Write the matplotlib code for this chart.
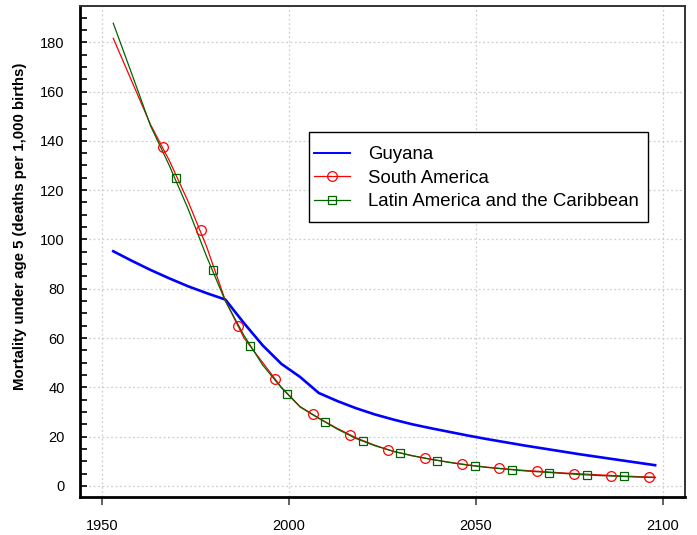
import matplotlib
matplotlib.use("Agg")
import matplotlib.pyplot as plt
from matplotlib.lines import Line2D
from matplotlib.patches import Rectangle
from matplotlib.ticker import MultipleLocator

plt.rcParams['font.family'] = ['Liberation Sans', 'DejaVu Sans']

# 5-year period midpoints
years = [1953, 1958, 1963, 1968, 1973, 1978, 1983, 1988, 1993, 1998,
         2003, 2008, 2013, 2018, 2023, 2028, 2033, 2038, 2043, 2048,
         2053, 2058, 2063, 2068, 2073, 2078, 2083, 2088, 2093, 2098]

guyana = [95.2, 91.3, 87.6, 84.2, 81.0, 78.2, 75.6, 66.0, 57.0, 49.5,
          44.2, 37.7, 34.4, 31.5, 29.0, 26.9, 25.0, 23.4, 21.9, 20.4,
          19.0, 17.7, 16.4, 15.2, 14.0, 12.8, 11.7, 10.6, 9.5, 8.4]

south_america = [181.6, 164.0, 146.5, 132.0, 115.5, 97.0, 75.2, 60.0, 50.0, 40.0,
                 32.2, 27.5, 23.3, 19.5, 16.5, 14.0, 12.3, 10.8, 9.6, 8.5,
                 7.6, 6.9, 6.3, 5.8, 5.3, 4.9, 4.5, 4.1, 3.8, 3.5]

latin_america = [187.7, 167.0, 146.0, 130.0, 112.5, 93.0, 75.0, 61.0, 49.0, 39.8,
                 32.0, 27.4, 23.0, 19.2, 16.3, 14.0, 12.2, 10.8, 9.5, 8.4,
                 7.5, 6.8, 6.1, 5.6, 5.1, 4.6, 4.2, 3.9, 3.6, 3.4]

# marker positions as drawn on the reference
sa_marker_years = [1966.4, 1976.4, 1986.3, 1996.3, 2006.4, 2016.4, 2026.4,
                   2036.4, 2046.3, 2056.3, 2066.3, 2076.3, 2086.3, 2096.3]
sa_marker_values = [137.3, 104.0, 65.0, 43.2, 29.1, 20.6, 14.6,
                    11.3, 8.8, 7.2, 6.0, 5.0, 4.2, 3.7]
lac_marker_years = [1969.7, 1979.6, 1989.6, 1999.6, 2009.6, 2019.7, 2029.7,
                    2039.7, 2049.8, 2059.7, 2069.7, 2079.7, 2089.7]
lac_marker_values = [124.8, 87.4, 56.6, 37.4, 26.1, 18.4, 13.5,
                     10.3, 8.1, 6.5, 5.4, 4.3, 3.9]

fig = plt.figure(figsize=(6.97, 5.35), dpi=100)
ax = fig.add_axes([80/697, 38/535, 605/697, 491/535])

ax.plot(years, guyana, color='blue', lw=1.9, zorder=3)
ax.plot(years, south_america, color='red', lw=0.9, zorder=4)
ax.plot(years, latin_america, color='darkgreen', lw=0.9, zorder=5)
ax.plot(sa_marker_years, sa_marker_values, ls='none', marker='o', ms=7,
        mfc='none', mec='red', mew=0.9, zorder=6)
ax.plot(lac_marker_years, lac_marker_values, ls='none', marker='s', ms=6.3,
        mfc='none', mec='darkgreen', mew=0.9, zorder=6)

ax.set_xlim(1944.1, 2106)
ax.set_ylim(-4.5, 194.7)
ax.set_xticks([1950, 2000, 2050, 2100])
ax.set_yticks(range(0, 181, 20))
ax.yaxis.set_minor_locator(MultipleLocator(5))

ax.grid(True, which='major', color='#cfcfcf', linestyle=(0, (1.5, 2)), lw=0.9)
ax.set_axisbelow(True)

ax.tick_params(axis='y', which='both', direction='in', length=5, width=1.2,
               labelsize=10.5, pad=11)
ax.tick_params(axis='x', direction='out', length=6, width=1.3, color='#555555',
               labelsize=10.5, pad=10)

for side in ['left', 'bottom']:
    ax.spines[side].set_linewidth(2)
for side in ['top', 'right']:
    ax.spines[side].set_linewidth(1.4)
    ax.spines[side].set_color('#333333')

ax.set_ylabel('Mortality under age 5 (deaths per 1,000 births)',
              fontsize=10.8, fontweight='bold')
ax.yaxis.set_label_coords(-0.0876, 0.552)

# title mostly cut off at the top edge, as in the source image
fig.text(378/697, 1 + 3.5/535, 'Mortality under age 5', ha='center',
         va='baseline', fontsize=15.3, fontweight='bold')

# legend box drawn separately so the padding matches the source
ax.add_patch(Rectangle((229/605, 275/491), 339/605, 90/491, transform=ax.transAxes,
                       facecolor='white', edgecolor='black', lw=1.0, zorder=7))

handles = [
    Line2D([], [], color='blue', lw=1.4),
    Line2D([], [], color='red', lw=0.9, marker='o', ms=7, mfc='none', mew=0.9),
    Line2D([], [], color='darkgreen', lw=0.9, marker='s', ms=6.3, mfc='none', mew=0.9),
]
labels = ['Guyana', 'South America', 'Latin America and the Caribbean']
leg = ax.legend(handles, labels, loc='upper left',
                bbox_to_anchor=((314-80)/605, (497-146)/491),
                borderaxespad=0, fontsize=13.4, numpoints=1, handlelength=1.95,
                handletextpad=0.95, labelspacing=0.36, borderpad=0,
                frameon=False)
leg.set_zorder(8)

fig.savefig('out.png', dpi=100)
